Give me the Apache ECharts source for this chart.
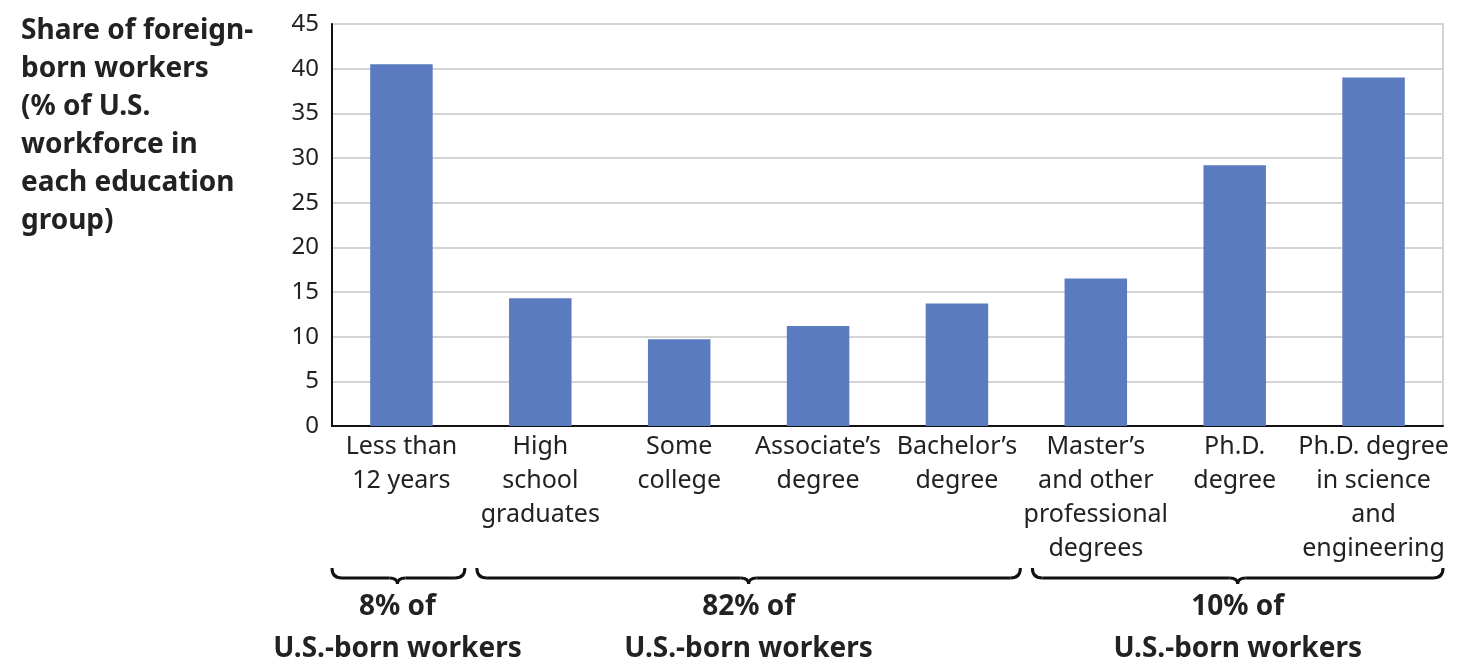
<!DOCTYPE html>
<html>
<head>
<meta charset="utf-8">
<script src="https://cdn.jsdelivr.net/npm/echarts@6/dist/echarts.min.js"></script>
<style>
html,body{margin:0;padding:0;background:#fff;}
#chart{width:1458px;height:662px;}
</style>
</head>
<body>
<div id="chart"></div>
<script>
const categories = [
  'Less than\n12 years',
  'High\nschool\ngraduates',
  'Some\ncollege',
  'Associate\u2019s\ndegree',
  'Bachelor\u2019s\ndegree',
  'Master\u2019s\nand other\nprofessional\ndegrees',
  'Ph.D.\ndegree',
  'Ph.D. degree\nin science\nand\nengineering'
];
const shares = [40.5, 14.3, 9.7, 11.2, 13.7, 16.5, 29.2, 39.0];
const yTicks = { min: 0, max: 45, interval: 5 };
const yTitle = 'Share of foreign-\nborn workers\n(% of U.S.\nworkforce in\neach education\ngroup)';
const groupLabels = ['8% of\nU.S.-born workers', '82% of\nU.S.-born workers', '10% of\nU.S.-born workers'];
const groupStart = [0, 1, 5];
const groupEnd = [0, 4, 7];

const FONT = 'Noto Sans';
const chart = echarts.init(document.getElementById('chart'));
chart.setOption({
  animation: false,
  backgroundColor: '#fff',
  title: {
    text: yTitle,
    left: 16, top: 7,
    textStyle: { fontFamily: FONT, fontSize: 28, fontWeight: 'bold', color: '#222', lineHeight: 38 }
  },
  grid: {
    left: 332, right: 15, top: 24, bottom: 236,
    show: true, borderColor: '#d4d4d4', borderWidth: 2
  },
  xAxis: {
    type: 'category',
    data: categories,
    axisLine: { lineStyle: { color: '#111', width: 2 } },
    axisTick: { show: false },
    axisLabel: { interval: 0, margin: 4, fontFamily: FONT, fontSize: 25, color: '#222', lineHeight: 34, verticalAlign: 'top' }
  },
  yAxis: {
    type: 'value',
    min: yTicks.min, max: yTicks.max, interval: yTicks.interval,
    axisLine: { show: true, lineStyle: { color: '#111', width: 2 } },
    axisTick: { show: false },
    splitLine: { lineStyle: { color: '#d4d4d4', width: 2 } },
    axisLabel: { margin: 13, fontFamily: FONT, fontSize: 24, color: '#222' }
  },
  series: [{
    type: 'bar',
    data: shares,
    barWidth: '45%',
    itemStyle: { color: '#5a7bbf' }
  }]
});

function drawGroups() {
  const px = i => chart.convertToPixel({ xAxisIndex: 0 }, i);
  const half = (px(1) - px(0)) / 2;
  const elements = [];
  const yTop = 568, yLine = 578, yTip = 584;
  const st = { stroke: '#111', lineWidth: 3, fill: null };
  for (let g = 0; g < groupLabels.length; g++) {
    let x1 = px(groupStart[g]) - half + 6;
    let x2 = px(groupEnd[g]) + half - 6;
    if (g === 0) x1 = px(groupStart[g]) - half;
    if (g === groupLabels.length - 1) x2 = px(groupEnd[g]) + half;
    let xm = (x1 + x2) / 2;
    if (g === 0) xm = px(0) - 4;
    elements.push({ type: 'bezierCurve', shape: { x1: x1, y1: yTop, x2: x1 + 10, y2: yLine, cpx1: x1, cpy1: yLine }, style: st });
    elements.push({ type: 'line', shape: { x1: x1 + 10, y1: yLine, x2: xm - 8, y2: yLine }, style: st });
    elements.push({ type: 'bezierCurve', shape: { x1: xm - 8, y1: yLine, x2: xm, y2: yTip, cpx1: xm, cpy1: yLine }, style: st });
    elements.push({ type: 'bezierCurve', shape: { x1: xm, y1: yTip, x2: xm + 8, y2: yLine, cpx1: xm, cpy1: yLine }, style: st });
    elements.push({ type: 'line', shape: { x1: xm + 8, y1: yLine, x2: x2 - 10, y2: yLine }, style: st });
    elements.push({ type: 'bezierCurve', shape: { x1: x2 - 10, y1: yLine, x2: x2, y2: yTop, cpx1: x2, cpy1: yLine }, style: st });
    elements.push({
      type: 'text',
      x: xm, y: 586,
      style: {
        text: groupLabels[g],
        fontFamily: FONT, fontSize: 28, fontWeight: 'bold', fill: '#222',
        align: 'center', verticalAlign: 'top', lineHeight: 42
      }
    });
  }
  chart.setOption({ graphic: { elements: elements } });
}
drawGroups();
</script>
</body>
</html>
